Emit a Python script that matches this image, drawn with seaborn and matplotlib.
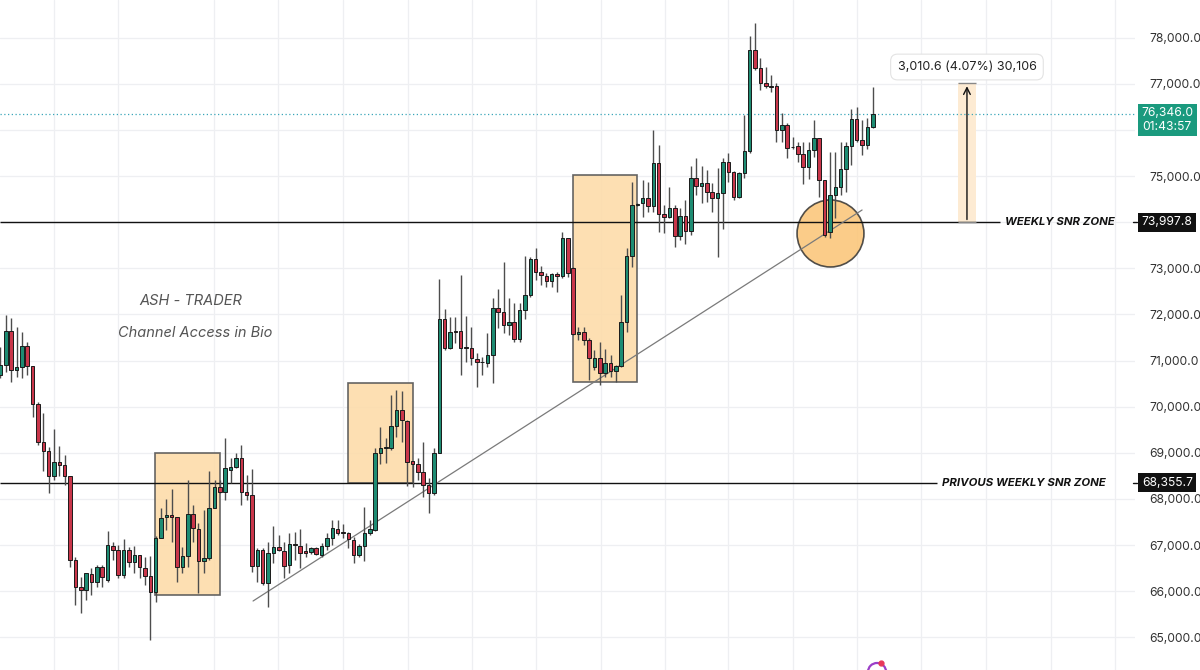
import matplotlib
matplotlib.use("Agg")
import matplotlib.pyplot as plt
import matplotlib.transforms as mtransforms
from matplotlib.patches import Rectangle, Ellipse, Arc
import numpy as np
import pandas as pd
import seaborn as sns

# candle data (one candle per index)
opens = [70690, 70900, 71640, 70800, 70860, 71320, 70880, 70060, 69230, 69040,
         68500, 68800, 68740, 68500, 66680, 66090, 66030, 66370, 66200, 66520,
         66240, 66980, 66890, 66350, 66890, 66630, 66790, 66500, 66330, 65980,
         67150, 67610, 67650, 67610, 66520, 66760, 67670, 67350, 66660, 66720,
         67800, 68260, 68150, 68630, 68690, 68890, 68150, 68090, 66550, 66890,
         66180, 66830, 66960, 66870, 66570, 67020, 66980, 66870, 66850, 66940,
         66790, 66980, 67150, 67350, 67280, 67260, 67110, 66790, 66980, 67260,
         67330, 69000, 69100, 69100, 69580, 69930, 69690, 68820, 68760, 68580,
         68300, 68130, 69000, 71900, 71270, 71640, 71640, 71290, 71270, 71030,
         70970, 70950, 71120, 72140, 72050, 71770, 71840, 71470, 72100, 72420,
         73200, 72920, 72830, 72730, 72880, 72830, 73660, 73010, 71580, 71620,
         71450, 70860, 71060, 70730, 70950, 70770, 70880, 71840, 73270, 74370,
         74420, 74520, 74350, 75280, 74180, 74110, 74310, 73700, 74130, 73810,
         74960, 74790, 74850, 74650, 74520, 74630, 75310, 75090, 74550, 75070,
         75540, 77730, 77340, 77020, 76950, 76950, 76000, 76110, 75630, 75650,
         75480, 75200, 75570, 75830, 74920, 73790, 74590, 74760, 75150, 75650,
         76240, 75780, 75670, 76060]
highs = [71290, 71990, 71920, 71730, 71620, 71400, 70880, 70100, 69860, 69130,
         69520, 69150, 68950, 68500, 66740, 66310, 66390, 66500, 66570, 66570,
         67300, 67070, 67000, 67130, 66960, 66980, 66790, 66740, 66760, 67200,
         67800, 68000, 68220, 67610, 66960, 68410, 67870, 67480, 67760, 68610,
         68410, 68410, 69320, 68890, 69000, 69170, 68520, 68650, 66940, 66940,
         67070, 67410, 67220, 67070, 67260, 67280, 67350, 67050, 66960, 66960,
         67050, 67260, 67540, 67540, 67460, 67280, 67180, 67020, 67830, 67540,
         69100, 69560, 69320, 70250, 70360, 70340, 69710, 68820, 68890, 69230,
         68450, 69100, 72770, 72120, 71940, 71940, 72860, 71970, 71730, 71160,
         71080, 71600, 72360, 72550, 73140, 72360, 72250, 72250, 73270, 73250,
         73440, 73050, 72900, 72900, 72920, 73790, 73660, 73030, 71730, 71730,
         71490, 71230, 71400, 71250, 71120, 70900, 72420, 73440, 74870, 74420,
         74920, 74870, 76000, 75670, 74370, 74760, 74370, 74310, 74480, 75220,
         75390, 75220, 75130, 74850, 75180, 75390, 75500, 75110, 75090, 76320,
         78040, 78320, 77560, 77360, 77190, 77020, 76370, 76150, 75850, 75740,
         75740, 75740, 76220, 75830, 74920, 75520, 75520, 75740, 75740, 76450,
         76500, 76220, 76260, 76930]
lows = [70620, 70750, 70540, 70640, 70620, 70690, 69780, 69170, 68610, 68130,
        68410, 68500, 68300, 66520, 65700, 65530, 65810, 65920, 66090, 66090,
        66200, 66680, 66290, 66290, 66520, 66390, 66290, 66130, 64940, 65770,
        67150, 67330, 67070, 66200, 66390, 66520, 67070, 65960, 66390, 66680,
        67800, 68130, 67980, 68350, 68670, 67870, 67980, 66420, 66200, 66130,
        65660, 66610, 66870, 66290, 66390, 66680, 66500, 66740, 66810, 66790,
        66740, 66890, 67000, 67220, 67150, 66940, 66610, 66740, 66660, 67220,
        67300, 68760, 68780, 69060, 69340, 69230, 68280, 68260, 68410, 68040,
        67700, 68090, 69000, 71230, 71250, 71380, 70690, 70970, 70900, 70430,
        70690, 70860, 70510, 71710, 71600, 71550, 71400, 71400, 71900, 72380,
        72750, 72640, 72600, 72600, 72490, 72790, 72810, 71550, 71450, 71340,
        70580, 70800, 70470, 70640, 70640, 70540, 70860, 71620, 73030, 74350,
        74110, 74220, 74220, 73790, 73770, 74090, 73460, 73610, 73530, 73720,
        74590, 74420, 74440, 74220, 73250, 73850, 74870, 74480, 74520, 74960,
        75500, 77300, 76870, 76910, 76820, 75740, 75740, 75390, 75590, 75310,
        74830, 74940, 75420, 74550, 73680, 73660, 74090, 74590, 74650, 75240,
        75740, 75460, 75590, 76040]
closes = [70900, 71640, 70800, 70860, 71320, 70880, 70060, 69230, 69040, 68500,
          68800, 68740, 68500, 66680, 66090, 66030, 66390, 66200, 66520, 66310,
          67000, 66890, 66350, 66890, 66630, 66790, 66520, 66330, 65980, 67150,
          67590, 67650, 67610, 66520, 66760, 67670, 67370, 66660, 66720, 67800,
          68260, 68150, 68670, 68690, 68890, 68150, 68090, 66550, 66890, 66180,
          66830, 66960, 66890, 66550, 67020, 67000, 66830, 66830, 66940, 66810,
          66980, 67150, 67370, 67260, 67270, 67130, 66790, 66980, 67260, 67350,
          69000, 69100, 69130, 69580, 69930, 69710, 68800, 68760, 68580, 68300,
          68130, 69000, 71900, 71270, 71620, 71620, 71270, 71280, 71060, 70970,
          70960, 71120, 72140, 72050, 71770, 71840, 71470, 72100, 72420, 73200,
          72920, 72860, 72730, 72880, 72830, 73660, 72900, 71580, 71620, 71450,
          71060, 71060, 70730, 70950, 70770, 70880, 71840, 73270, 74370, 74390,
          74520, 74350, 75280, 74180, 74110, 74310, 73700, 74130, 73810, 74960,
          74790, 74850, 74650, 74520, 74630, 75310, 75090, 74550, 75070, 75540,
          77730, 77340, 77020, 76950, 76940, 76000, 76110, 75610, 75620, 75480,
          75200, 75570, 75830, 74920, 73720, 74590, 74760, 75150, 75650, 76240,
          75780, 75670, 76060, 76346]

last_price = 76346.0
countdown = "01:43:57"
weekly_snr = 73997.8
prev_weekly_snr = 68355.7
ruler_top = 77008.4
ruler_text = "3,010.6 (4.07%) 30,106"
price_ticks = list(range(65000, 79000, 1000))
hidden_ticks = [74000, 76000]
time_grid = [10.0, 22.0, 39.9, 51.9, 64.0, 76.2, 88.1, 100.1, 112.2, 124.2,
             136.0, 148.1, 160.1, 172.0, 184.2, 196.3, 208.3]
# zones drawn on the chart: (start index, end index, low price, high price)
zone_boxes = [(28.9, 41.0, 65917, 68996),
              (64.9, 77.1, 68346, 70514),
              (107.0, 119.0, 70535, 75023)]
trend_idx = [47.2, 161.0]
trend_price = [65787, 74264]

df = pd.DataFrame({"open": opens, "high": highs, "low": lows, "close": closes})
df["idx"] = np.arange(len(df))
df["up"] = df["close"] >= df["open"]

sns.set_theme(style="white")
plt.rcParams["font.family"] = ["Inter", "DejaVu Sans"]

fig = plt.figure(figsize=(12, 6.7), dpi=100)
ax = fig.add_axes([0, 0, 1135 / 1200, 1])
ax.set_xlim(-0.09, 212.0)
ax.set_ylim(64291, 78817)

# grid
for gx in time_grid:
    ax.axvline(gx, color="#eeeff2", lw=0.9, zorder=0)
for py in price_ticks:
    ax.axhline(py, color="#eeeff2", lw=0.9, zorder=0)

# zone boxes
for x0, x1, lo, hi in zone_boxes:
    ax.add_patch(Rectangle((x0, lo), x1 - x0, hi - lo, facecolor="#fddcaa",
                           edgecolor="#555555", lw=1.2, alpha=0.9, zorder=1))
ax.add_patch(Ellipse((155.1, 73755), 12.5, 1453, facecolor="#fbc474",
                     edgecolor="#333333", lw=1.2, alpha=0.85, zorder=1))

# support lines
ax.hlines(weekly_snr, -0.09, 186.8, color="#111111", lw=1.0, zorder=2)
ax.hlines(prev_weekly_snr, -0.09, 175.0, color="#111111", lw=1.0, zorder=2)
ax.axhline(last_price, color="#3aa6b9", lw=0.9, ls=(0, (1, 2)), zorder=2)

# trend line
sns.lineplot(x=trend_idx, y=trend_price, ax=ax, color="#7a7a7a", lw=0.9, zorder=2)

# candles
green, red = "#1e8c73", "#c9364a"
ax.vlines(df["idx"], df["low"], df["high"], color="#4d4d4d", lw=1.0, zorder=3)
body_lo = df[["open", "close"]].min(axis=1)
body_h = (df["close"] - df["open"]).abs().clip(lower=8)
ax.bar(df["idx"], body_h, bottom=body_lo, width=0.66,
       color=np.where(df["up"], green, red), edgecolor="#1a1a1a", lw=0.7, zorder=4)

# measuring ruler
ax.add_patch(Rectangle((178.9, weekly_snr), 3.4, ruler_top - weekly_snr,
                       facecolor="#fdebd3", edgecolor="none", zorder=1))
ax.hlines([weekly_snr, ruler_top], 178.9, 182.3, color="#888888", lw=1.0, zorder=2)
ax.annotate("", xy=(180.6, ruler_top), xytext=(180.6, weekly_snr),
            arrowprops=dict(arrowstyle="->", color="#111111", lw=1.0), zorder=3)
ax.text(180.6, 77364, ruler_text, ha="center", va="center", fontsize=9, color="#222222",
        bbox=dict(boxstyle="round,pad=0.55", fc="white", ec="#e3e3e3", lw=0.8), zorder=5)

# labels on the lines
ax.text(187.7, weekly_snr, "WEEKLY SNR ZONE", ha="left", va="center", fontsize=8.2,
        fontweight="bold", fontstyle="italic", color="#111111")
ax.text(176.0, prev_weekly_snr, "PRIVOUS WEEKLY SNR ZONE", ha="left", va="center",
        fontsize=8.2, fontweight="bold", fontstyle="italic", color="#111111")

ax.text(35.6, 72291, "ASH - TRADER", ha="center", va="center", fontsize=10.5,
        fontstyle="italic", color="#555555")
ax.text(36.3, 71598, "Channel Access in Bio", ha="center", va="center", fontsize=10.5,
        fontstyle="italic", color="#555555")

# little logo peeking in at the bottom edge
ax.add_patch(Arc((163.8, 64248), 3.4, 390, theta1=20, theta2=180,
                 color="#9b3fc8", lw=1.6, zorder=5))
ax.plot([164.5], [64440], "o", color="#e8385a", ms=3.5, zorder=6)

# price scale on the right
ax.yaxis.tick_right()
ax.set_yticks(price_ticks)
ax.set_yticklabels(["" if t in hidden_ticks else f"{t:,.1f}" for t in price_ticks])
ax.tick_params(axis="y", length=0, pad=10, labelsize=8.7, labelcolor="#333333")
ax.set_xticks([])
for s in ax.spines.values():
    s.set_visible(False)

trans = mtransforms.blended_transform_factory(ax.transAxes, ax.transData)
for val in [weekly_snr, prev_weekly_snr]:
    ax.plot([0.998, 1.002], [val, val], color="#111111", lw=1.0, transform=trans,
            clip_on=False)
    ax.text(1.006, val, f"{val:,.1f}", transform=trans, ha="left", va="center",
            fontsize=8.7, color="white",
            bbox=dict(boxstyle="square,pad=0.28", fc="#111111", ec="none"), clip_on=False)
ax.text(1.006, 76215, f"{last_price:,.1f}\n{countdown}", transform=trans, ha="left",
        va="center", fontsize=8.7, color="white", linespacing=1.15,
        bbox=dict(boxstyle="square,pad=0.28", fc="#1a9a7e", ec="none"), clip_on=False)

fig.savefig("out.png", dpi=100)
